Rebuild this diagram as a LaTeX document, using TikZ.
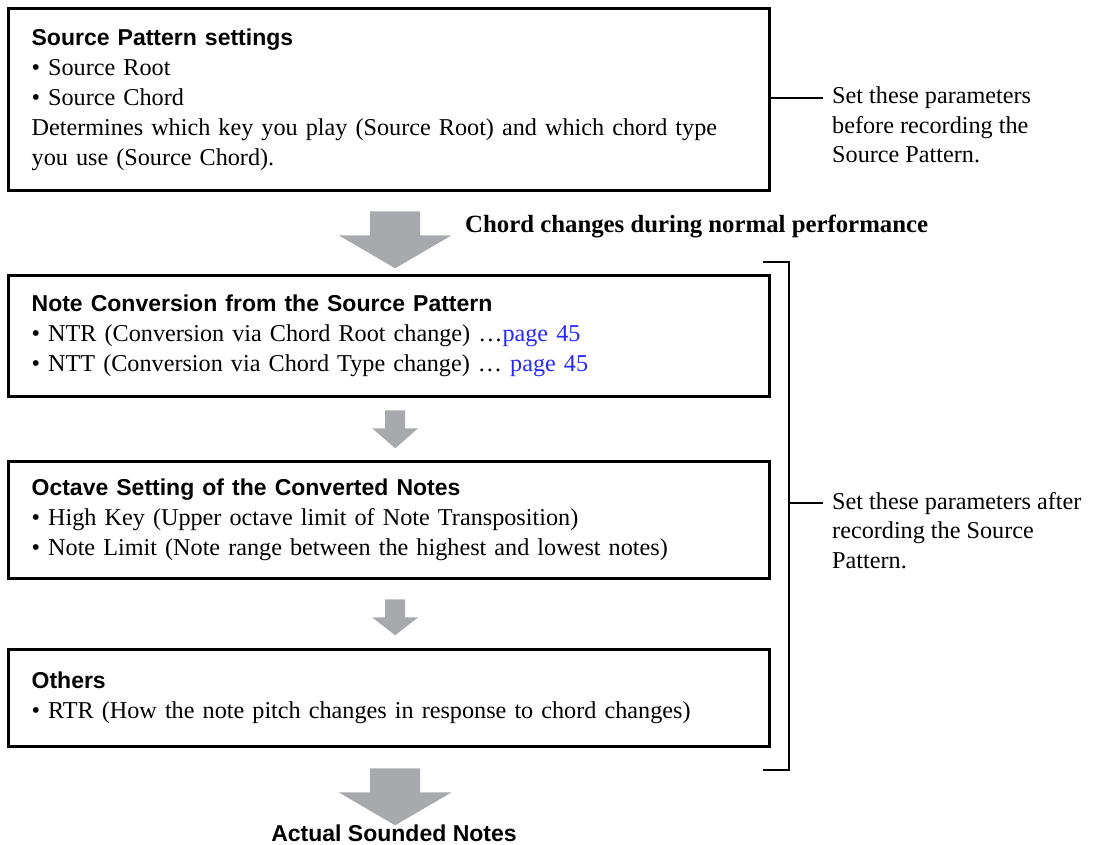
\documentclass[tikz,border=0pt]{standalone}
\usepackage{fontspec}
\setmainfont{Liberation Serif}
\setsansfont{Liberation Sans}
\usetikzlibrary{calc}
\definecolor{arrowgray}{RGB}{167,169,172}
\definecolor{linkblue}{RGB}{40,40,250}
\newcommand{\hd}[1]{{\sffamily\bfseries\fontsize{23}{30}\selectfont #1}}
\newcommand{\pg}[1]{\textcolor{linkblue}{#1}}
\tikzset{
  pics/downarrow/.style n args={4}{code={
    \fill[arrowgray] (-#1,0) -- (#1,0) -- (#1,#3) -- (#2,#3) -- (0,#4) -- (-#2,#3) -- (-#1,#3) -- cycle;
  }},
}
\begin{document}
\begin{tikzpicture}[x=1pt,y=-1pt,
  box/.style={draw, line width=3.3pt, text width=715pt, inner xsep=23pt, inner ysep=0pt,
    align=left, anchor=north west, font=\fontsize{24.2}{30}\selectfont},
  note/.style={anchor=north west, inner sep=0pt, align=left, font=\fontsize{24.2}{29.5}\selectfont},
  thin/.style={line width=2.2pt},
]
\useasboundingbox (0,0) rectangle (1113,844);

\node[box, minimum height=182pt] (b1) at (7,7) {\hd{Source Pattern settings}\\
\textbullet\ Source Root\\
\textbullet\ Source Chord\\
Determines which key you play (Source Root) and which chord type\\
you use (Source Chord).};

\node[box, minimum height=121pt] (b2) at (7,274) {\hd{Note Conversion from the Source Pattern}\\
\textbullet\ NTR (Conversion via Chord Root change) …\pg{page 45}\\
\textbullet\ NTT (Conversion via Chord Type change) … \pg{page 45}};

\node[box, minimum height=117pt] (b3) at (7,460) {\hd{Octave Setting of the Converted Notes}\\
\textbullet\ High Key (Upper octave limit of Note Transposition)\\
\textbullet\ Note Limit (Note range between the highest and lowest notes)};

\node[box, minimum height=97pt] (b4) at (7,648) {\hd{Others}\\
\textbullet\ RTR (How the note pitch changes in response to chord changes)};

% arrows
\pic at ($(b1.south)+(6,19)$) {downarrow={25}{56.5}{24}{57}};
\pic at ($(b2.south)+(6,12)$) {downarrow={10}{23}{18}{38}};
\pic at ($(b3.south)+(6,19)$) {downarrow={10}{23}{18}{36}};
\pic at ($(b4.south)+(6,20)$) {downarrow={25}{56.5}{24}{57}};

\node[anchor=west, inner sep=0pt, font=\fontsize{24.8}{30}\selectfont\bfseries] (chg) at (465,226) {Chord changes during normal performance};
\node[anchor=center, inner sep=0pt, font=\fontsize{23}{30}\selectfont\sffamily\bfseries] (act) at (394,833) {Actual Sounded Notes};

% first note
\coordinate (n1) at (823,98);
\draw[thin] (b1.east |- n1) -- (n1);
\node[note] (t1) at (832,87) {Set these parameters\\before recording the\\Source Pattern.};

% bracket
\coordinate (bt) at (763,262);
\coordinate (bb) at (763,770);
\coordinate (bm) at (789,503);
\coordinate (n2) at (823,503);
\draw[thin] (bt) -- (bt -| bm) -- (bb -| bm) -- (bb);
\draw[thin] (bm) -- (n2);
\node[note] (t2) at (832,492) {Set these parameters after\\recording the Source\\Pattern.};
\end{tikzpicture}
\end{document}
